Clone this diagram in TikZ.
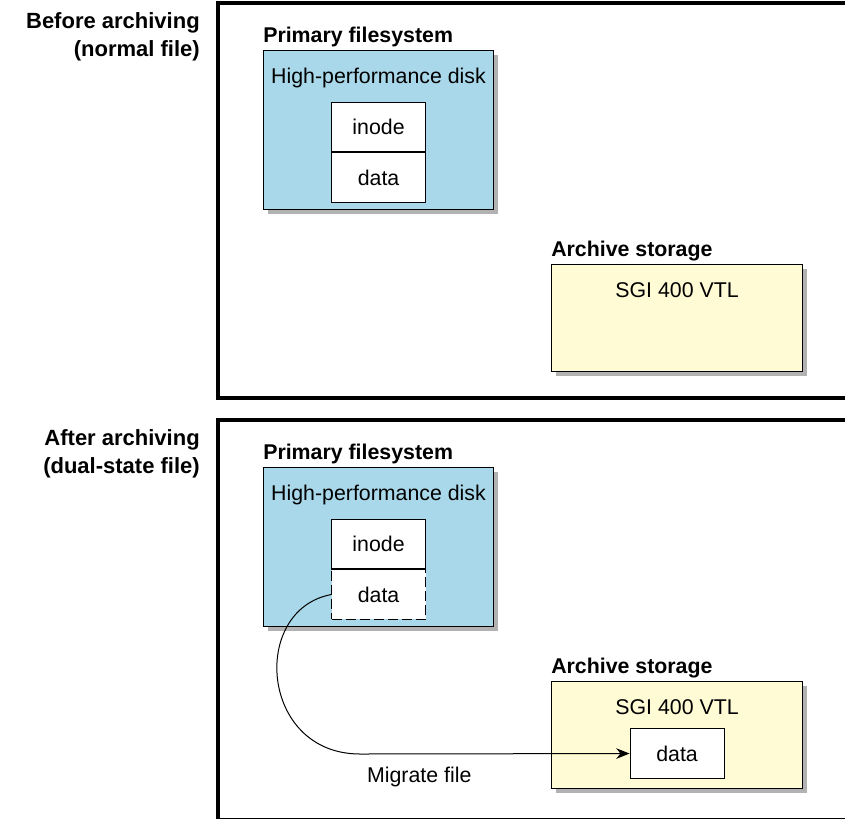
\documentclass[tikz,border=0pt]{standalone}
\usepackage{fontspec}
\setmainfont{Liberation Sans}
\usetikzlibrary{arrows.meta,positioning,shadows}

\definecolor{diskblue}{RGB}{168,216,234}
\definecolor{vtlyellow}{RGB}{255,251,212}

\begin{document}
\begin{tikzpicture}[x=0.75pt,y=-0.75pt,>={Stealth[length=10pt,width=8pt]},
    panel/.style={draw=black, line width=3pt},
    boxshadow/.style={drop shadow={shadow xshift=3pt, shadow yshift=-3pt, fill=black!30, opacity=1}},
    diskbox/.style={rectangle, draw=black, fill=diskblue, line width=0.8pt, boxshadow,
                    minimum width=172.5pt, minimum height=119.25pt, anchor=north west},
    vtlbox/.style={rectangle, draw=black, fill=vtlyellow, line width=0.8pt, boxshadow,
                   minimum width=188.25pt, minimum height=80.25pt, anchor=north west},
    filebox/.style={rectangle, draw=black, fill=white, line width=0.8pt,
                    minimum width=70.5pt, minimum height=37pt, inner sep=0pt,
                    font=\fontsize{16}{19}\selectfont},
    boxtext/.style={inner sep=0pt, font=\fontsize{16}{19}\selectfont},
    grouplabel/.style={inner sep=0pt, anchor=base west, font=\fontsize{16}{19}\selectfont\bfseries},
    sidelabel/.style={inner sep=0pt, anchor=north east, align=right, font=\fontsize{16.5}{21}\selectfont\bfseries}]
  \useasboundingbox (0,0) rectangle (845,818);
  \clip (0,0) rectangle (845,818);

  % before archiving
  \node[sidelabel] (before) at (200,12.5) {Before archiving\\(normal file)};
  \draw[panel] (218,3) rectangle (852,398);
  \node[diskbox] (disk1) at (263,50) {};
  \node[grouplabel] (pfs1) at ([yshift=6pt]disk1.north west) {Primary filesystem};
  \node[boxtext, below=13.5pt of disk1.north] (hpd1) {High-performance disk};
  \node[filebox, below=39pt of disk1.north] (inode1) {inode};
  \node[filebox, below=0pt of inode1] (data1) {data};
  \node[vtlbox] (vtl1) at (551,264) {};
  \node[grouplabel] (arch1) at ([yshift=5.6pt]vtl1.north west) {Archive storage};
  \node[boxtext, below=13.5pt of vtl1.north] (sgi1) {SGI 400 VTL};

  % after archiving
  \node[sidelabel] (after) at (200,429) {After archiving\\(dual-state file)};
  \draw[panel] (218,420) rectangle (852,820);
  \node[diskbox] (disk2) at (263,467) {};
  \node[grouplabel] (pfs2) at ([yshift=6pt]disk2.north west) {Primary filesystem};
  \node[boxtext, below=13.5pt of disk2.north] (hpd2) {High-performance disk};
  \node[filebox, below=39pt of disk2.north] (inode2) {inode};
  \node[filebox, below=0pt of inode2, dash pattern=on 7.5pt off 3pt] (data2) {data};
  \draw[line width=0.8pt] (inode2.south west) -- (inode2.south east);
  \node[vtlbox] (vtl2) at (551,681) {};
  \node[grouplabel] (arch2) at ([yshift=5.6pt]vtl2.north west) {Archive storage};
  \node[boxtext, below=13.5pt of vtl2.north] (sgi2) {SGI 400 VTL};
  \node[filebox, minimum height=37.5pt, below=35.25pt of vtl2.north] (vtldata) {data};

  \draw[->, line width=0.75pt] (data2.west) .. controls (250,610) and (260,754) .. (360,754)
      -- node[boxtext, pos=0.22, below=9.5pt] (migrate) {Migrate file} (vtldata.west);
\end{tikzpicture}
\end{document}
